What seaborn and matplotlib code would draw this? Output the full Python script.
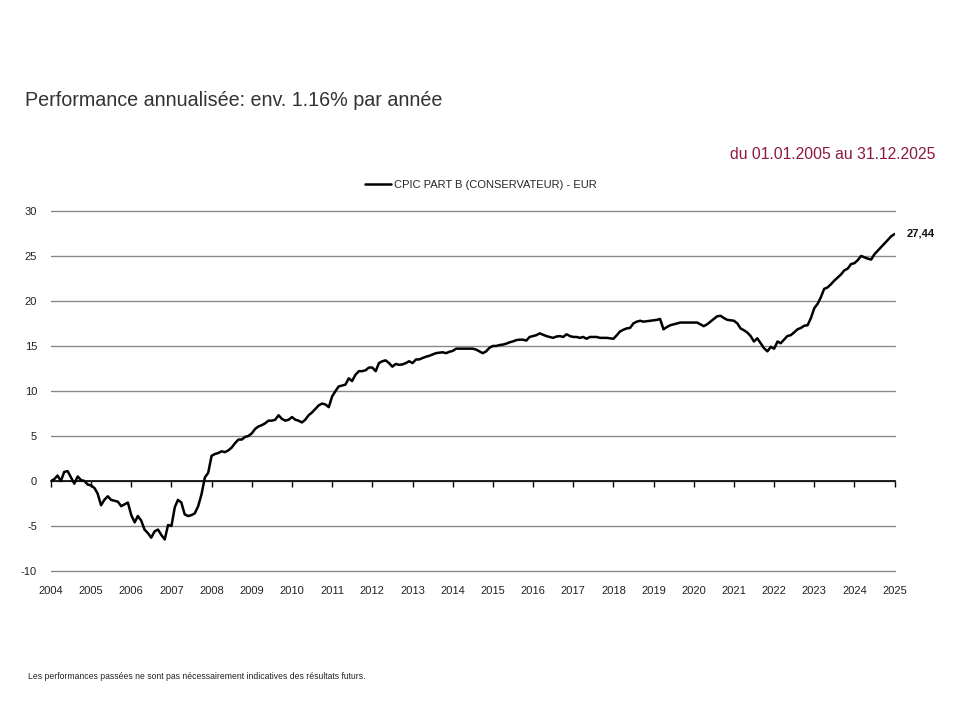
import numpy as np
import pandas as pd
import matplotlib
matplotlib.use("Agg")
import matplotlib.pyplot as plt
import matplotlib.dates as mdates
import seaborn as sns

# --- données mensuelles (performance cumulée en %) ---
PERF_2004 = [0.0, 0.2, 0.6, 0.0, 1.0, 1.1, 0.4, -0.3, 0.5, 0.1, 0.0, -0.4]
PERF_2005 = [-0.5, -0.8, -1.4, -2.7, -2.1, -1.7, -2.1, -2.2, -2.3, -2.8, -2.6, -2.4]
PERF_2006 = [-3.8, -4.6, -3.9, -4.4, -5.4, -5.8, -6.3, -5.6, -5.4, -6.0, -6.5, -4.9]
PERF_2007 = [-5.0, -2.9, -2.1, -2.4, -3.7, -3.9, -3.8, -3.6, -2.8, -1.5, 0.4, 0.9]
PERF_2008 = [2.8, 3.0, 3.1, 3.3, 3.2, 3.4, 3.7, 4.2, 4.6, 4.6, 4.9, 5.0]
PERF_2009 = [5.3, 5.8, 6.05, 6.2, 6.4, 6.7, 6.7, 6.8, 7.3, 6.9, 6.7, 6.8]
PERF_2010 = [7.1, 6.8, 6.7, 6.5, 6.8, 7.3, 7.6, 8.0, 8.4, 8.6, 8.5, 8.2]
PERF_2011 = [9.4, 10.0, 10.5, 10.6, 10.7, 11.4, 11.1, 11.8, 12.2, 12.2, 12.3, 12.6]
PERF_2012 = [12.6, 12.2, 13.1, 13.3, 13.4, 13.1, 12.7, 13.0, 12.9, 12.95, 13.1, 13.3]
PERF_2013 = [13.1, 13.5, 13.5, 13.65, 13.8, 13.9, 14.05, 14.2, 14.25, 14.3, 14.2, 14.35]
PERF_2014 = [14.45, 14.7, 14.7, 14.7, 14.7, 14.7, 14.7, 14.6, 14.4, 14.2, 14.4, 14.8]
PERF_2015 = [15.0, 15.0, 15.1, 15.15, 15.25, 15.4, 15.5, 15.65, 15.7, 15.7, 15.6, 16.0]
PERF_2016 = [16.1, 16.2, 16.4, 16.25, 16.1, 16.0, 15.9, 16.05, 16.1, 16.0, 16.3, 16.1]
PERF_2017 = [16.0, 16.0, 15.9, 16.0, 15.8, 16.0, 16.0, 16.0, 15.9, 15.9, 15.9, 15.85]
PERF_2018 = [15.8, 16.2, 16.6, 16.8, 16.95, 17.0, 17.5, 17.7, 17.8, 17.7, 17.75, 17.8]
PERF_2019 = [17.85, 17.9, 18.0, 16.85, 17.1, 17.3, 17.4, 17.5, 17.6, 17.6, 17.6, 17.6]
PERF_2020 = [17.6, 17.6, 17.4, 17.2, 17.4, 17.7, 18.0, 18.3, 18.35, 18.1, 17.9, 17.85]
PERF_2021 = [17.8, 17.5, 16.95, 16.75, 16.5, 16.1, 15.5, 15.85, 15.3, 14.75, 14.4, 14.9]
PERF_2022 = [14.7, 15.5, 15.3, 15.7, 16.1, 16.2, 16.5, 16.85, 17.0, 17.25, 17.3, 18.1]
PERF_2023 = [19.2, 19.7, 20.4, 21.35, 21.5, 21.85, 22.25, 22.6, 22.95, 23.4, 23.6, 24.1]
PERF_2024 = [24.2, 24.55, 25.0, 24.85, 24.7, 24.6, 25.2, 25.6, 26.0, 26.4, 26.8, 27.2]
PERF_2025 = [27.44]

SERIES_NAME = "CPIC PART B (CONSERVATEUR) - EUR"
TITLE = "Performance annualisée: env. 1.16% par année"
PERIOD = "du 01.01.2005 au 31.12.2025"
FOOTNOTE = "Les performances passées ne sont pas nécessairement indicatives des résultats futurs."
Y_TICKS = [-10, -5, 0, 5, 10, 15, 20, 25, 30]

values = np.concatenate([
    PERF_2004, PERF_2005, PERF_2006, PERF_2007, PERF_2008, PERF_2009, PERF_2010,
    PERF_2011, PERF_2012, PERF_2013, PERF_2014, PERF_2015, PERF_2016, PERF_2017,
    PERF_2018, PERF_2019, PERF_2020, PERF_2021, PERF_2022, PERF_2023, PERF_2024,
    PERF_2025,
])
dates = pd.date_range("2004-01-01", periods=len(values), freq="MS")
df = pd.DataFrame({"date": dates, "perf": values})

sns.set_theme(style="white")
plt.rcParams["font.family"] = ["Liberation Sans", "DejaVu Sans"]
plt.rcParams["axes.unicode_minus"] = False

fig = plt.figure(figsize=(9.6, 7.2), dpi=100)
ax = fig.add_axes([0.053, 0.207, 0.879, 0.5])

sns.lineplot(data=df, x="date", y="perf", ax=ax, color="black", linewidth=1.8,
             label=SERIES_NAME)

ax.set_ylim(-10, 30)
ax.set_xlim(dates[0], pd.Timestamp("2025-01-01"))
ax.set_yticks(Y_TICKS)
ax.set_xlabel("")
ax.set_ylabel("")
ax.xaxis.set_major_locator(mdates.YearLocator(1))
ax.xaxis.set_major_formatter(mdates.DateFormatter("%Y"))

# grille horizontale grise
ax.yaxis.grid(True, color="#8a8a8a", linewidth=1)
ax.xaxis.grid(False)
ax.set_axisbelow(True)
for gl in ax.get_ygridlines():
    gl.set_clip_on(False)

# axe zéro noir avec graduations, libellés en bas
for side in ["left", "right", "bottom"]:
    ax.spines[side].set_visible(False)
ax.spines["top"].set_position(("data", 0))
ax.spines["top"].set_color("black")
ax.spines["top"].set_linewidth(1.2)
ax.spines["top"].set_zorder(2.6)
ax.tick_params(axis="x", bottom=False, top=True, labelbottom=True, labeltop=False,
               direction="in", length=4, width=1, color="black", pad=11,
               labelsize=8, labelcolor="#222222")
ax.tick_params(axis="y", left=False, length=0, pad=10, labelsize=8, labelcolor="#222222")

# dernière valeur
last_date, last_val = df["date"].iloc[-1], df["perf"].iloc[-1]
ax.annotate(f"{last_val:.2f}".replace(".", ","), xy=(last_date, last_val),
            xytext=(8.5, 0), textcoords="offset points", va="center", ha="left",
            fontsize=8, fontweight="bold", color="#111111", annotation_clip=False)

ax.legend(loc="lower center", bbox_to_anchor=(0.51, 1.03), frameon=False,
          fontsize=8, handlelength=2.3, handletextpad=0.3)

fig.text(0.026, 0.86, TITLE, fontsize=14.2, color="#333333", va="center")
fig.text(0.974, 0.786, PERIOD, fontsize=11.3, color="#8B1A3A", va="center", ha="right")
fig.text(0.029, 0.06, FOOTNOTE, fontsize=6.25, color="#222222", va="center")

fig.savefig("out.png", dpi=100)
